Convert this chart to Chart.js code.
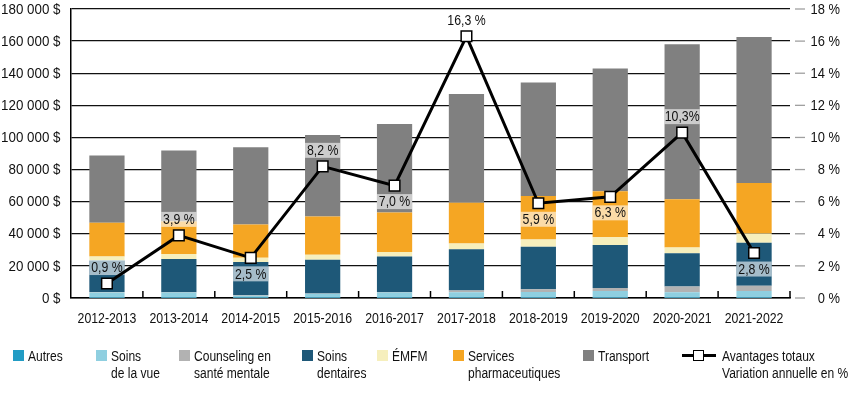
<!DOCTYPE html>
<html><head><meta charset="utf-8">
<script src="https://cdn.jsdelivr.net/npm/chart.js@4/dist/chart.umd.min.js"></script>
<style>
html,body{margin:0;padding:0;background:#fff;}
#wrap{position:relative;width:850px;height:399px;overflow:hidden;font-family:"Liberation Sans",Arial,sans-serif;}
canvas{position:absolute;left:0;top:0;}
.lg{position:absolute;font-size:14.7px;line-height:16.6px;color:#111;white-space:nowrap;transform:scaleX(0.82);transform-origin:0 0;}
.sw{position:absolute;width:11px;height:11px;}
</style></head>
<body><div id="wrap"><canvas id="c" width="850" height="399"></canvas><div id="legend"></div></div>
<script>
const categories = ["2012-2013","2013-2014","2014-2015","2015-2016","2016-2017","2017-2018","2018-2019","2019-2020","2020-2021","2021-2022"];
const autres     = [100, 100, 100, 100, 100, 100, 100, 100, 100, 100];
const vision     = [3300, 3300, 1300, 2500, 3300, 3500, 3700, 4300, 3500, 4300];
const counseling = [300, 200, 300, 200, 200, 1100, 1700, 1900, 3500, 3300];
const dental     = [19600, 20700, 20700, 21100, 22300, 25600, 26400, 26700, 20700, 26700];
const emfm       = [2500, 3100, 2700, 3100, 2700, 3700, 4600, 4800, 3700, 5800];
const pharma     = [21100, 20200, 20700, 23800, 24600, 25400, 27100, 28700, 30000, 31400];
const transport  = [41800, 44300, 48100, 50700, 55100, 67600, 70600, 76500, 96500, 91000];
const variation  = [0.9, 3.9, 2.5, 8.2, 7.0, 16.3, 5.9, 6.3, 10.3, 2.8];
const variationLabels = ["0,9 %","3,9 %","2,5 %","8,2 %","7,0 %","16,3 %","5,9 %","6,3 %","10,3%","2,8 %"];
const leftTicks = [0, 20000, 40000, 60000, 80000, 100000, 120000, 140000, 160000, 180000];
const rightTicks = [0, 2, 4, 6, 8, 10, 12, 14, 16, 18];

const labelSide = ["above","above","below","above","below","above","below","below","above","below"];
const FONT = '"Liberation Sans",Arial,sans-serif';
const SX = 0.82; // horizontal condensing to mimic a narrow face

const series = [
  {label:"Autres", data:autres, color:"#229cc4"},
  {label:"Soins de la vue", data:vision, color:"#8fcfe0"},
  {label:"Counseling en santé mentale", data:counseling, color:"#b2b2b2"},
  {label:"Soins dentaires", data:dental, color:"#1e5878"},
  {label:"ÉMFM", data:emfm, color:"#f6efbd"},
  {label:"Services pharmaceutiques", data:pharma, color:"#f5a623"},
  {label:"Transport", data:transport, color:"#808080"}
];

const fmtMoney = v => String(v).replace(/\B(?=(\d{3})+(?!\d))/g, '\u00a0') + '\u00a0$';

function narrowText(ctx, text, x, y, align, sx){
  ctx.save();
  ctx.translate(x, y);
  ctx.scale(sx || SX, 1);
  ctx.textAlign = align;
  ctx.fillText(text, 0, 0);
  ctx.restore();
}

const decor = {
  id:'decor',
  afterDatasetsDraw(chart){
    const {ctx, chartArea:a, scales:{x, y, y1}} = chart;
    ctx.save();
    ctx.strokeStyle = '#000'; ctx.lineWidth = 1.5;
    const half = (x.getPixelForValue(1) - x.getPixelForValue(0)) / 2;
    for (let i = 0; i < categories.length; i++) {
      const xx = x.getPixelForValue(i) + half;
      ctx.beginPath(); ctx.moveTo(xx, a.bottom); ctx.lineTo(xx, a.bottom - 7); ctx.stroke();
    }
    ctx.strokeStyle = '#a0a0a0'; ctx.lineWidth = 1.3;
    rightTicks.forEach(v => {
      const yy = y1.getPixelForValue(v);
      ctx.beginPath(); ctx.moveTo(a.right + 5, yy); ctx.lineTo(a.right + 15, yy); ctx.stroke();
    });
    // axis labels
    ctx.fillStyle = '#111';
    ctx.font = '15px ' + FONT;
    ctx.textBaseline = 'middle';
    leftTicks.forEach(v => narrowText(ctx, fmtMoney(v), a.left - 10.5, y.getPixelForValue(v) + 0.5, 'right', 0.89));
    rightTicks.forEach(v => narrowText(ctx, v + '\u00a0%', 840, y1.getPixelForValue(v) + 0.5, 'right', 0.86));
    categories.forEach((c, i) => narrowText(ctx, c, x.getPixelForValue(i), a.bottom + 20.5, 'center'));
    ctx.restore();
  },
  beforeDatasetDraw(chart, args){
    if (args.meta.type !== 'line') return;
    const ctx = chart.ctx;
    const barMeta = chart.getDatasetMeta(1);
    ctx.save();
    ctx.font = '15px ' + FONT;
    ctx.textBaseline = 'middle';
    args.meta.data.forEach((pt, i) => {
      const bw = barMeta.data[i].width;
      const cy = pt.y + (labelSide[i] === 'above' ? -16 : 16);
      ctx.fillStyle = 'rgba(255,255,255,0.6)';
      ctx.fillRect(pt.x - bw/2, cy - 7.5, bw, 15);
      ctx.fillStyle = '#111';
      narrowText(ctx, variationLabels[i], pt.x, cy + 0.5, 'center');
    });
    ctx.restore();
  }
};

const datasets = [{
  type:'line', label:'Avantages totaux Variation annuelle en %', data:variation, yAxisID:'y1', order:0,
  borderColor:'#000', borderWidth:3, pointStyle:'rect', pointRadius:7.5, pointHoverRadius:7.5,
  pointBackgroundColor:'#fff', pointBorderColor:'#000', pointBorderWidth:1.5, tension:0
}].concat(series.map(s => ({
  type:'bar', label:s.label, data:s.data, backgroundColor:s.color, yAxisID:'y', stack:'s', order:1,
  categoryPercentage:1, barPercentage:0.49, borderWidth:0
})));

new Chart(document.getElementById('c'), {
  data:{labels:categories, datasets},
  options:{
    responsive:false, animation:false, devicePixelRatio:1,
    layout:{padding:{top:8, left:0, right:0, bottom:0}},
    plugins:{legend:{display:false}, tooltip:{enabled:false}},
    scales:{
      x:{stacked:true, grid:{display:false, drawTicks:false}, border:{display:true, color:'#000', width:1.5},
         ticks:{display:false},
         afterFit(s){ s.height = 101; }},
      y:{stacked:true, position:'left', min:0, max:180000,
         afterBuildTicks(s){ s.ticks = leftTicks.map(v => ({value:v})); },
         grid:{color:'#111', lineWidth:1.3, drawTicks:false}, border:{display:true, color:'#000', width:1.5},
         ticks:{display:false},
         afterFit(s){ s.width = 71; }},
      y1:{position:'right', min:0, max:18,
         afterBuildTicks(s){ s.ticks = rightTicks.map(v => ({value:v})); },
         grid:{display:false, drawTicks:false}, border:{display:false},
         ticks:{display:false},
         afterFit(s){ s.width = 60; }}
    }
  },
  plugins:[decor]
});

// legend
const lg = document.getElementById('legend');
const items = [
  {x:13, tx:28, c:series[0].color, t:"Autres"},
  {x:96, tx:111, c:series[1].color, t:"Soins<br>de la vue"},
  {x:179, tx:194, c:series[2].color, t:"Counseling en<br>santé mentale"},
  {x:302, tx:317, c:series[3].color, t:"Soins<br>dentaires"},
  {x:377, tx:392, c:series[4].color, t:"ÉMFM"},
  {x:453, tx:468, c:series[5].color, t:"Services<br>pharmaceutiques"},
  {x:583, tx:598, c:series[6].color, t:"Transport"}
];
let html = '';
items.forEach(it => {
  html += `<div class="sw" style="left:${it.x}px;top:350px;background:${it.c}"></div>`;
  html += `<div class="lg" style="left:${it.tx}px;top:348px">${it.t}</div>`;
});
html += `<div style="position:absolute;left:682px;top:354px;width:34px;height:3px;background:#000"></div>`;
html += `<div style="position:absolute;left:693px;top:350px;width:11px;height:11px;background:#fff;border:1.5px solid #000;box-sizing:border-box"></div>`;
html += `<div class="lg" style="left:722px;top:348px">Avantages totaux<br>Variation annuelle en %</div>`;
lg.innerHTML = html;
</script>
</body></html>
